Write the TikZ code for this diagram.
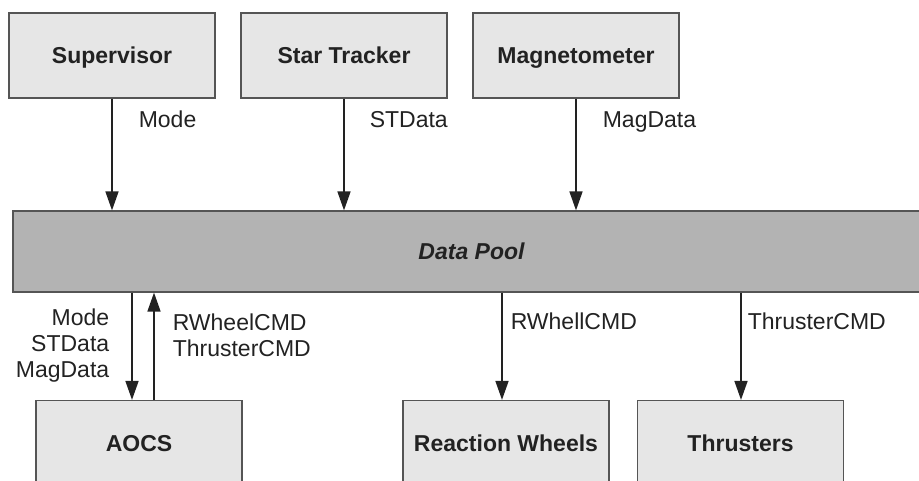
\documentclass[tikz,border=0pt]{standalone}
\usepackage{fontspec}
\setmainfont{Liberation Sans}
\usetikzlibrary{arrows.meta}
\definecolor{unitfill}{HTML}{E6E6E6}
\definecolor{poolfill}{HTML}{B3B3B3}
\definecolor{edge}{HTML}{555555}
\definecolor{ink}{HTML}{222222}
\begin{document}
\begin{tikzpicture}[
x=1pt, y=-1pt,
>={Triangle[length=19pt,width=13pt]},
node distance=232pt,
font=\fontsize{23}{26}\selectfont,
unit/.style={draw=edge, line width=1.2pt, fill=unitfill, text=ink, font=\fontsize{23}{26}\selectfont\bfseries, text height=16.5pt, text depth=0pt, minimum width=206pt, minimum height=85pt},
pool/.style={draw=edge, line width=1.2pt, fill=poolfill, text=ink, font=\fontsize{23}{26}\selectfont\bfseries\itshape, text height=16.5pt, text depth=0pt, minimum width=917pt, minimum height=81pt},
lbl/.style={text=ink, inner sep=0pt},
arrow/.style={draw=ink, line width=1.6pt, ->}
]
\useasboundingbox (0,0) rectangle (919,481);

\node[unit] (supervisor) at (112,55.5) {Supervisor};
\node[unit] (startracker) [right of = supervisor] {Star Tracker};
\node[unit] (magnetometer) [right of = startracker] {Magnetometer};
\node[pool] (datapool) at (471.5,251.5) {Data Pool};
\node[unit] (aocs) at (139,443) {AOCS};
\node[unit] (rwheels) at (506,443) {Reaction Wheels};
\node[unit] (thrusters) [right of = rwheels, node distance=234.5pt] {Thrusters};

\coordinate (aocsin) at ([xshift=-7pt]aocs.north);
\coordinate (aocsout) at ([xshift=15pt]aocs.north);
\coordinate (rwheelsin) at ([xshift=-4pt]rwheels.north);
\coordinate (thrustersin) at ([xshift=0.5pt]thrusters.north);

\path[arrow] (supervisor) -- node[lbl, pos=0.26, anchor=base west, xshift=26pt] {Mode} (supervisor |- datapool.north);
\path[arrow] (startracker) -- node[lbl, pos=0.26, anchor=base west, xshift=25pt] {STData} (startracker |- datapool.north);
\path[arrow] (magnetometer) -- node[lbl, pos=0.26, anchor=base west, xshift=26pt] {MagData} (magnetometer |- datapool.north);
\path[arrow] (aocsin |- datapool.south) -- node[lbl, pos=0.148, anchor=north east, xshift=-22pt, align=right] {Mode\\STData\\MagData} (aocsin);
\path[arrow] (aocsout) -- node[lbl, pos=0.806, anchor=north west, xshift=18pt, align=left] {RWheelCMD\\ThrusterCMD} (aocsout |- datapool.south);
\path[arrow] (rwheelsin |- datapool.south) -- node[lbl, pos=0.185, anchor=north west, xshift=8pt] {RWhellCMD} (rwheelsin);
\path[arrow] (thrustersin |- datapool.south) -- node[lbl, pos=0.185, anchor=north west, xshift=6pt] {ThrusterCMD} (thrustersin);

\end{tikzpicture}
\end{document}
